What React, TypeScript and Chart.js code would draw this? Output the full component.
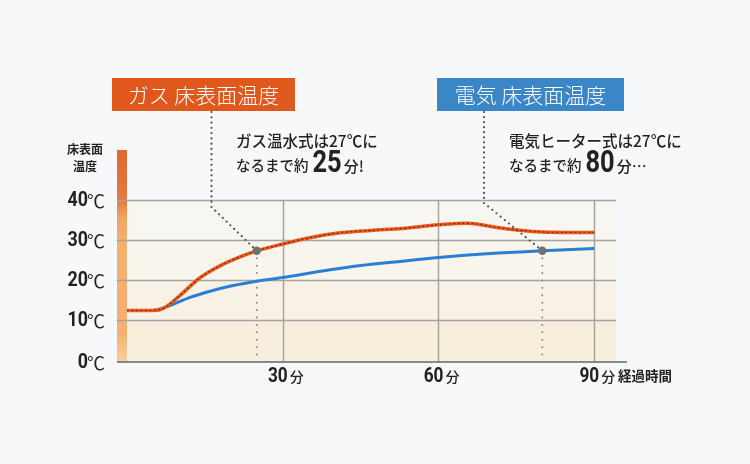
import { useEffect, useRef } from 'react';
import { Chart, registerables } from 'chart.js';

Chart.register(...registerables);

// readings (minutes, °C)
const gasMinutes = [0, 5, 7, 10, 14, 18, 22, 25, 30, 35, 41, 47, 53, 60, 65.5, 71, 76, 80, 85, 90];
const gasTemps = [12.4, 12.4, 12.9, 15.9, 20.5, 23.6, 25.9, 27.3, 29.0, 30.5, 31.8, 32.4, 32.9, 33.8, 34.2, 33.2, 32.4, 32.0, 31.9, 31.9];
const elecMinutes = [0, 5, 8, 12, 16, 20, 25, 30, 37, 45, 53, 60, 70, 80, 90];
const elecTemps = [12.4, 12.4, 13.5, 15.6, 17.2, 18.5, 19.7, 20.6, 22.1, 23.6, 24.7, 25.6, 26.6, 27.3, 27.9];

const yTicks = [0, 10, 20, 30, 40];
const xTicks = [30, 60, 90];
const gasReach = 25;
const elecReach = 80;

const gasTitle = 'ガス 床表面温度';
const elecTitle = '電気 床表面温度';
const gasNote1 = 'ガス温水式は27℃に';
const elecNote1 = '電気ヒーター式は27℃に';
const noteLead = 'なるまで約';
const yTitle = ['床表面', '温度'];
const xTitle = '経過時間';

const JP = "'Noto Sans CJK JP', sans-serif";

function txt(ctx: CanvasRenderingContext2D, s: string, x: number, y: number, font: string, color: string, align: CanvasTextAlign = 'left', sx = 1) {
  ctx.save();
  ctx.font = font;
  ctx.fillStyle = color;
  ctx.textBaseline = 'middle';
  ctx.translate(x, y);
  ctx.scale(sx, 1);
  ctx.textAlign = align;
  ctx.fillText(s, 0, 0);
  ctx.restore();
}

function width(ctx: CanvasRenderingContext2D, s: string, font: string, sx = 1) {
  ctx.save();
  ctx.font = font;
  const w = ctx.measureText(s).width * sx;
  ctx.restore();
  return w;
}

function dotted(ctx: CanvasRenderingContext2D, pts: number[][], gap: number, color: string, r: number) {
  ctx.fillStyle = color;
  for (let i = 0; i < pts.length - 1; i++) {
    const [x0, y0] = pts[i];
    const [x1, y1] = pts[i + 1];
    const len = Math.hypot(x1 - x0, y1 - y0);
    const n = Math.max(1, Math.round(len / gap));
    for (let k = 0; k < n; k++) {
      const t = k / n;
      ctx.beginPath();
      ctx.arc(x0 + (x1 - x0) * t, y0 + (y1 - y0) * t, r, 0, Math.PI * 2);
      ctx.fill();
    }
  }
}

const decor = {
  id: 'decor',
  beforeDraw(chart: any) {
    const { ctx, chartArea: a, scales } = chart;
    const x = scales.x;
    const y = scales.y;
    ctx.save();
    ctx.fillStyle = '#f7f8fa';
    ctx.fillRect(0, 0, chart.width, chart.height);

    // background bands
    const bands: [number, number, string][] = [
      [-0.5, 10, '#f8eedc'],
      [10, 20, '#f8f2e6'],
      [20, 30, '#f8f5ec'],
      [30, 40, '#f8f6f0'],
    ];
    bands.forEach(([lo, hi, c]) => {
      ctx.fillStyle = c;
      const top = y.getPixelForValue(hi);
      ctx.fillRect(a.left, top, a.right - a.left, y.getPixelForValue(lo) - top);
    });

    // temperature colour bar
    const barTop = 150;
    const g = ctx.createLinearGradient(0, barTop, 0, a.bottom);
    const span = a.bottom - barTop;
    g.addColorStop(0, '#e2672f');
    g.addColorStop((a.top - barTop) / span, '#e8783c');
    g.addColorStop((a.top + 18 - barTop) / span, '#f2a562');
    g.addColorStop((a.top + 40 - barTop) / span, '#f4b06c');
    g.addColorStop((a.bottom - 30 - barTop) / span, '#f4b06c');
    g.addColorStop(1, '#f6cfa2');
    ctx.fillStyle = g;
    ctx.fillRect(a.left - 10, barTop, 10, span);

    // grid
    ctx.strokeStyle = '#a4a4a4';
    ctx.lineWidth = 1.5;
    yTicks.filter((v) => v > 0).forEach((v) => {
      const py = Math.round(y.getPixelForValue(v)) + 0.5;
      ctx.beginPath();
      ctx.moveTo(a.left - 10, py);
      ctx.lineTo(a.right, py);
      ctx.stroke();
    });
    xTicks.forEach((v) => {
      const px = Math.round(x.getPixelForValue(v)) + 0.5;
      ctx.beginPath();
      ctx.moveTo(px, a.top);
      ctx.lineTo(px, a.bottom);
      ctx.stroke();
    });
    ctx.strokeStyle = '#666';
    ctx.beginPath();
    ctx.moveTo(a.left - 10, a.bottom);
    ctx.lineTo(a.right + 11, a.bottom);
    ctx.stroke();
    ctx.restore();
  },
  beforeDatasetsDraw(chart: any) {
    const { ctx, chartArea: a, scales } = chart;
    const x = scales.x;
    const y = scales.y;
    ctx.save();
    const gx = x.getPixelForValue(gasReach);
    const gy = y.getPixelForValue(gasTemps[gasMinutes.indexOf(gasReach)]);
    const ex = x.getPixelForValue(elecReach);
    const ey = y.getPixelForValue(elecTemps[elecMinutes.indexOf(elecReach)]);
    dotted(ctx, [[gx, gy], [gx, a.bottom]], 7.5, '#8a8a8a', 1);
    dotted(ctx, [[ex, ey], [ex, a.bottom]], 7.5, '#8a8a8a', 1);
    ctx.restore();
  },
  afterDatasetsDraw(chart: any) {
    const { ctx, chartArea: a, scales } = chart;
    const x = scales.x;
    const y = scales.y;
    ctx.save();

    // leader lines and marks
    const gx = x.getPixelForValue(gasReach);
    const gy = y.getPixelForValue(gasTemps[gasMinutes.indexOf(gasReach)]);
    const ex = x.getPixelForValue(elecReach);
    const ey = y.getPixelForValue(elecTemps[elecMinutes.indexOf(elecReach)]);
    dotted(ctx, [[211.5, 112], [211.5, 207], [gx, gy]], 5.2, '#505050', 1.1);
    dotted(ctx, [[484, 112], [484, 203], [ex, ey]], 5.2, '#505050', 1.1);
    ctx.fillStyle = '#727272';
    [[gx, gy], [ex, ey]].forEach(([px, py]) => {
      ctx.beginPath();
      ctx.arc(px, py, 4.2, 0, Math.PI * 2);
      ctx.fill();
    });

    // title boxes
    ctx.fillStyle = '#e0581c';
    ctx.fillRect(112, 78, 183, 33);
    txt(ctx, gasTitle, 203.5, 95, `300 21px ${JP}`, '#fff', 'center');
    ctx.fillStyle = '#3b86c6';
    ctx.fillRect(437, 78, 187, 33);
    txt(ctx, elecTitle, 530.5, 95, `300 21px ${JP}`, '#fff', 'center');

    // notes
    const noteFont = `500 15.5px ${JP}`;
    const bigFont = 'bold 31px Roboto';
    const drawNote = (x0: number, line1: string, num: string, tail: string) => {
      txt(ctx, line1, x0, 141, noteFont, '#222');
      let cx = x0;
      txt(ctx, noteLead, cx, 165, `500 14.5px ${JP}`, '#222');
      cx += width(ctx, noteLead, `500 14.5px ${JP}`) + 4;
      txt(ctx, num, cx, 164, bigFont, '#222', 'left', 0.82);
      cx += width(ctx, num, bigFont, 0.82) + 2;
      txt(ctx, tail, cx, 166, `500 15px ${JP}`, '#222');
    };
    drawNote(236, gasNote1, '25', '分!');
    drawNote(509, elecNote1, '80', '分…');

    // y axis labels
    txt(ctx, yTitle[0], 85, 149, `bold 12px ${JP}`, '#222', 'center');
    txt(ctx, yTitle[1], 85, 166, `bold 12px ${JP}`, '#222', 'center');
    yTicks.forEach((v) => {
      const py = v === 0 ? a.bottom : y.getPixelForValue(v);
      txt(ctx, '℃', 105, py + 1, `400 18px ${JP}`, '#222', 'right');
      txt(ctx, String(v), 88, py + 1, 'bold 21px Roboto', '#222', 'right', 0.85);
    });

    // x axis labels
    xTicks.forEach((v) => {
      const px = x.getPixelForValue(v);
      const nw = width(ctx, String(v), 'bold 21px Roboto', 0.82);
      txt(ctx, String(v), px + 5 - nw, 377, 'bold 21px Roboto', '#222', 'left', 0.82);
      txt(ctx, '分', px + 7, 377, `500 14px ${JP}`, '#222');
    });
    txt(ctx, xTitle, 618, 376, `bold 13.5px ${JP}`, '#222');
    ctx.restore();
  },
};

export default function App() {
  const canvasRef = useRef<HTMLCanvasElement>(null);
  const chartRef = useRef<Chart | null>(null);

  useEffect(() => {
    if (!canvasRef.current) return;
    document.body.style.margin = '0';
    document.body.style.background = '#f7f8fa';
    if (chartRef.current) chartRef.current.destroy();

    const gasPts = gasMinutes.map((m, i) => ({ x: m, y: gasTemps[i] }));
    const elecPts = elecMinutes.map((m, i) => ({ x: m, y: elecTemps[i] }));

    // first dataset is painted last, so the texture sits on top
    chartRef.current = new Chart(canvasRef.current, {
      type: 'line',
      data: {
        datasets: [
          {
            label: 'gas texture',
            data: gasPts,
            borderColor: 'rgba(105,40,25,0.8)',
            borderWidth: 1.4,
            borderDash: [2, 2.5],
            pointRadius: 0,
            cubicInterpolationMode: 'monotone',
          },
          {
            label: 'gas',
            data: gasPts,
            borderColor: '#ee5a1c',
            borderWidth: 3.5,
            pointRadius: 0,
            cubicInterpolationMode: 'monotone',
          },
          {
            label: 'electric',
            data: elecPts,
            borderColor: '#2a7fd4',
            borderWidth: 3,
            pointRadius: 0,
            cubicInterpolationMode: 'monotone',
          },
        ],
      },
      options: {
        responsive: false,
        animation: false,
        devicePixelRatio: 1,
        layout: { padding: { left: 127, right: 134, top: 200, bottom: 102 } },
        plugins: { legend: { display: false }, tooltip: { enabled: false } },
        scales: {
          x: { type: 'linear', display: false, min: 0, max: 94.2 },
          y: { display: false, min: -0.5, max: 40 },
        },
      },
      plugins: [decor],
    });

    return () => {
      if (chartRef.current) {
        chartRef.current.destroy();
        chartRef.current = null;
      }
    };
  }, []);

  return (
    <div style={{ position: 'absolute', left: 0, top: 0, width: 750, height: 464 }}>
      <canvas ref={canvasRef} width={750} height={464} />
    </div>
  );
}
